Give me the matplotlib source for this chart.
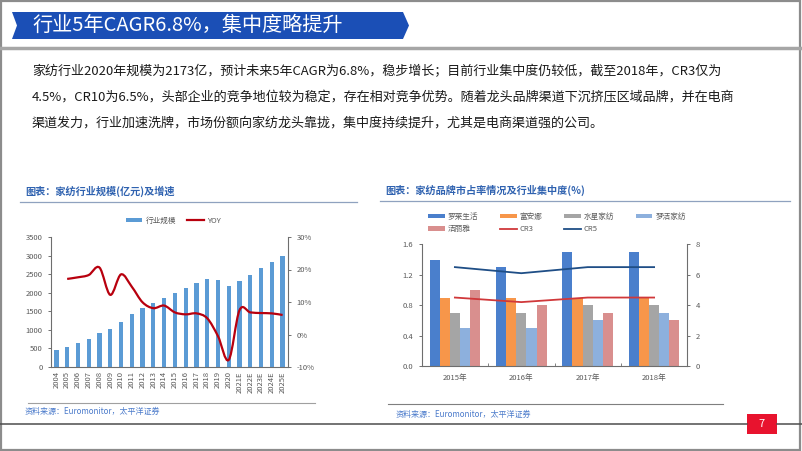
import matplotlib.pyplot as plt
from matplotlib.path import Path
from matplotlib.patches import PathPatch, Polygon, Rectangle, Patch
from matplotlib.lines import Line2D
from matplotlib.ticker import FuncFormatter

plt.rcParams['font.family'] = ['Noto Sans CJK SC', 'DejaVu Sans']

W, H = 802, 451

# left chart: industry size (100m yuan) and YOY (%)
years = ['2004', '2005', '2006', '2007', '2008', '2009', '2010', '2011', '2012',
         '2013', '2014', '2015', '2016', '2017', '2018', '2019', '2020',
         '2021E', '2022E', '2023E', '2024E', '2025E']
scale = [470, 540, 640, 760, 910, 1020, 1210, 1420, 1580, 1710, 1860, 1990,
         2120, 2260, 2370, 2340, 2173, 2320, 2480, 2660, 2830, 3000]
yoy = [17.1, 17.6, 18.3, 20.6, 12.2, 18.5, 14.7, 9.9, 8.1, 8.9, 6.8, 6.2,
       6.5, 5.0, -0.5, -7.8, 7.5, 6.8, 6.6, 6.5, 6.0]  # 2005 .. 2025E

# right chart: brand market share (%) and concentration
periods = ['2015年', '2016年', '2017年', '2018年']
brands = ['罗莱生活', '富安娜', '水星家纺', '梦洁家纺', '洁丽雅']
luolai = [1.4, 1.3, 1.5, 1.5]
fuanna = [0.9, 0.9, 0.9, 0.9]
shuixing = [0.7, 0.7, 0.8, 0.8]
mengjie = [0.5, 0.5, 0.6, 0.7]
jieliya = [1.0, 0.8, 0.7, 0.6]
cr3 = [4.5, 4.2, 4.5, 4.5]
cr5 = [6.5, 6.1, 6.5, 6.5]

brand_colors = ['#4A7FCC', '#F7964A', '#A5A5A5', '#8DB0DD', '#D98F8E']
tick_color = '#595959'
spine_color = '#6E6E6E'


def fx(x):
    return x / W


def fy(y):
    return 1 - y / H


def box(x0, y0, x1, y1):
    return [fx(x0), fy(y1), fx(x1) - fx(x0), fy(y0) - fy(y1)]


def smooth_path(xs, ys):
    # Catmull-Rom through the points, as bezier segments
    pts = list(zip(xs, ys))
    verts = [pts[0]]
    codes = [Path.MOVETO]
    n = len(pts)
    for i in range(n - 1):
        p0 = pts[max(i - 1, 0)]
        p1 = pts[i]
        p2 = pts[i + 1]
        p3 = pts[min(i + 2, n - 1)]
        c1 = (p1[0] + (p2[0] - p0[0]) / 6, p1[1] + (p2[1] - p0[1]) / 6)
        c2 = (p2[0] - (p3[0] - p1[0]) / 6, p2[1] - (p3[1] - p1[1]) / 6)
        verts += [c1, c2, p2]
        codes += [Path.CURVE4] * 3
    return Path(verts, codes)


def style_axis(ax, sides):
    for s in ['top', 'left', 'right', 'bottom']:
        ax.spines[s].set_visible(s in sides)
        ax.spines[s].set_color(spine_color)
        ax.spines[s].set_linewidth(0.8)
    ax.tick_params(colors=tick_color, labelsize=5.5, length=2.5, width=0.6)


fig = plt.figure(figsize=(W / 100, H / 100), dpi=100)

# slide frame, banner, separators
fig.add_artist(Rectangle((0.001, 0.002), 0.997, 0.996, transform=fig.transFigure,
                         fill=False, edgecolor='#8C8C8C', linewidth=1.6))
banner = [(12, 12), (403, 12), (409, 25.5), (403, 39), (12, 39), (17, 25.5)]
fig.add_artist(Polygon([(fx(x), fy(y)) for x, y in banner], closed=True,
                       transform=fig.transFigure, facecolor='#1B4FB6', edgecolor='none'))
fig.text(fx(32), fy(25.5), '行业5年CAGR6.8%，集中度略提升', color='white',
         fontsize=14.5, va='center', ha='left')
fig.add_artist(Line2D([0, 1], [fy(47.5), fy(47.5)], transform=fig.transFigure,
                      color='#A6A6A6', linewidth=2.5))

body = ['家纺行业2020年规模为2173亿，预计未来5年CAGR为6.8%，稳步增长；目前行业集中度仍较低，截至2018年，CR3仅为',
        '4.5%，CR10为6.5%，头部企业的竞争地位较为稳定，存在相对竞争优势。随着龙头品牌渠道下沉挤压区域品牌，并在电商',
        '渠道发力，行业加速洗牌，市场份额向家纺龙头靠拢，集中度持续提升，尤其是电商渠道强的公司。']
for i, line in enumerate(body):
    fig.text(fx(32), fy(72 + i * 25.5), line, color='#1A1A1A', fontsize=9.4,
             va='center', ha='left')

# chart titles and source notes
title_color = '#2F62B0'
fig.text(fx(25), fy(191), '图表：家纺行业规模(亿元)及增速', color=title_color,
         fontsize=7.3, fontweight='bold', va='center')
fig.text(fx(385), fy(190), '图表：家纺品牌市占率情况及行业集中度(%)', color=title_color,
         fontsize=7.3, fontweight='bold', va='center')
fig.add_artist(Line2D([fx(20), fx(357)], [fy(202), fy(202)], transform=fig.transFigure,
                      color='#8FA2BF', linewidth=0.9))
fig.add_artist(Line2D([fx(380), fx(790)], [fy(200.5), fy(200.5)], transform=fig.transFigure,
                      color='#8FA2BF', linewidth=0.9))
fig.add_artist(Line2D([fx(28), fx(315)], [fy(403.3), fy(403.3)], transform=fig.transFigure,
                      color='#A0A0A0', linewidth=0.8))
fig.add_artist(Line2D([fx(388), fx(723)], [fy(404), fy(404)], transform=fig.transFigure,
                      color='#7F7F7F', linewidth=0.8))
src = '资料来源：Euromonitor，太平洋证券'
fig.text(fx(25), fy(411.5), src, color='#4A7ACB', fontsize=5.8, style='italic', va='center')
fig.text(fx(396), fy(414.5), src, color='#4A7ACB', fontsize=5.8, style='italic', va='center')

# footer with page number
fig.add_artist(Line2D([0, fx(747)], [fy(424), fy(424)], transform=fig.transFigure,
                      color='#4D4D4D', linewidth=1.1))
fig.add_artist(Line2D([fx(777), 1], [fy(424), fy(424)], transform=fig.transFigure,
                      color='#4D4D4D', linewidth=1.1))
fig.add_artist(Rectangle((fx(747), fy(434.3)), fx(30), 20.3 / H, transform=fig.transFigure,
                         facecolor='#E8132E', edgecolor='none'))
fig.text(fx(762), fy(424.2), '7', color='white', fontsize=8, ha='center', va='center')

# ---- left chart ----
ax1 = fig.add_axes(box(51, 237, 288, 367))
x = list(range(len(years)))
ax1.bar(x, scale, width=0.4, color='#5B9BD5', zorder=2)
ax1.set_xlim(-0.5, len(years) - 0.5)
ax1.set_ylim(0, 3500)
ax1.set_yticks(range(0, 3501, 500))
ax1.set_xticks(x)
ax1.set_xticklabels(years, rotation=90, fontsize=5.3)
style_axis(ax1, ['left', 'bottom'])
ax1.tick_params(axis='x', length=0, pad=3)

ax2 = ax1.twinx()
ax2.set_ylim(-10, 30)
ax2.set_yticks(range(-10, 31, 10))
ax2.yaxis.set_major_formatter(FuncFormatter(lambda v, p: f'{v:.0f}%'))
style_axis(ax2, ['right'])
ax2.add_patch(PathPatch(smooth_path(x[1:], yoy), facecolor='none',
                        edgecolor='#B8000E', linewidth=1.6, zorder=3))

handles = [Patch(facecolor='#5B9BD5'), Line2D([], [], color='#B8000E', linewidth=1.6)]
fig.legend(handles, ['行业规模', 'YOY'], loc='center', bbox_to_anchor=(fx(173), fy(220.7)),
           ncol=2, frameon=False, fontsize=5.5, handlelength=2.2, handleheight=0.5,
           columnspacing=1.4, handletextpad=0.4, labelcolor=tick_color)

# ---- right chart ----
ax3 = fig.add_axes(box(421.7, 244.3, 687.3, 366))
xs = list(range(len(periods)))
bw = 0.153
series = [luolai, fuanna, shuixing, mengjie, jieliya]
bars = []
for k, vals in enumerate(series):
    b = ax3.bar([i + (k - 2) * bw for i in xs], vals, width=bw,
                color=brand_colors[k], zorder=2)
    bars.append(b)
ax3.set_xlim(-0.5, len(periods) - 0.5)
ax3.set_ylim(0, 1.6)
ax3.set_yticks([0, 0.4, 0.8, 1.2, 1.6])
ax3.yaxis.set_major_formatter(FuncFormatter(lambda v, p: f'{v:.1f}'))
ax3.set_xticks(xs)
ax3.set_xticklabels(periods, fontsize=5.8)
ax3.set_xticks([i + 0.5 for i in xs[:-1]], minor=True)
style_axis(ax3, ['left', 'bottom'])
ax3.tick_params(axis='x', which='major', length=0, pad=6)
ax3.tick_params(axis='x', which='minor', length=2.5, direction='in', color=spine_color)

ax4 = ax3.twinx()
ax4.set_ylim(0, 8)
ax4.set_yticks(range(0, 9, 2))
style_axis(ax4, ['right'])
l3, = ax4.plot(xs, cr3, color='#D0383A', linewidth=1.3)
l5, = ax4.plot(xs, cr5, color='#1F4E86', linewidth=1.3)

h = bars + [l3, l5]
labels = brands + ['CR3', 'CR5']
order = [0, 4, 1, 5, 2, 6, 3]
fig.legend([h[i] for i in order], [labels[i] for i in order], loc='center',
           bbox_to_anchor=(fx(557), fy(223)), ncol=4, frameon=False, fontsize=5.5,
           handlelength=2.2, handleheight=0.5, columnspacing=2.8, handletextpad=0.4,
           labelspacing=0.55, labelcolor=tick_color)

fig.savefig('out.png', dpi=100)
